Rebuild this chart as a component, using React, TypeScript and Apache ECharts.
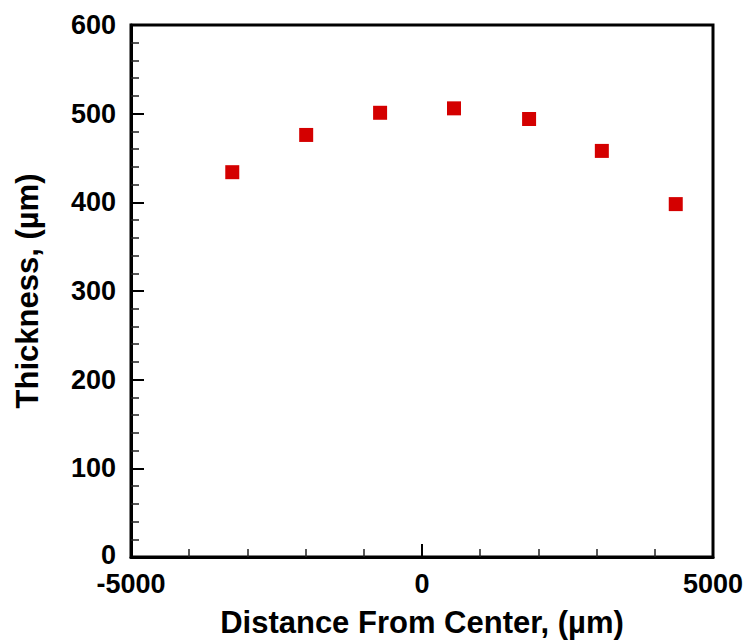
import React, { useEffect, useRef } from "react";
import * as echarts from "echarts";

const distances = [-3260, -1990, -720, 550, 1840, 3090, 4360];
const thickness = [434, 476, 501, 506, 494, 458, 398];
const xTitle = "Distance From Center, (µm)";
const yTitle = "Thickness, (µm)";

export default function App() {
  const ref = useRef<HTMLDivElement>(null);
  useEffect(() => {
    if (!ref.current) return;
    const chart = echarts.init(ref.current, null, { renderer: "svg" });
    const font = "Liberation Sans, Arial, sans-serif";
    chart.setOption({
      animation: false,
      backgroundColor: "#ffffff",
      grid: {
        left: 131,
        top: 25,
        right: 37,
        bottom: 87,
        show: true,
        borderColor: "#000",
        borderWidth: 3,
      },
      xAxis: {
        type: "value",
        min: -5000,
        max: 5000,
        interval: 5000,
        name: xTitle,
        nameLocation: "middle",
        nameGap: 50,
        nameTextStyle: { fontFamily: font, fontWeight: "bold", fontSize: 31, color: "#000" },
        axisLine: { show: true, onZero: false, lineStyle: { color: "#000", width: 3 } },
        axisTick: { show: true, inside: true, length: 13, lineStyle: { color: "#000", width: 2 } },
        minorTick: { show: true, splitNumber: 5, length: 8, lineStyle: { color: "#222", width: 1.5 } },
        splitLine: { show: false },
        axisLabel: {
          fontFamily: font,
          fontWeight: "bold",
          fontSize: 27,
          color: "#000",
          margin: 13,
          formatter: (v: number) => String(v),
        },
      },
      yAxis: {
        type: "value",
        min: 0,
        max: 600,
        interval: 100,
        name: yTitle,
        nameLocation: "middle",
        nameGap: 88,
        nameTextStyle: { fontFamily: font, fontWeight: "bold", fontSize: 31, color: "#000" },
        axisLine: { show: true, onZero: false, lineStyle: { color: "#000", width: 3 } },
        axisTick: { show: true, inside: true, length: 13, lineStyle: { color: "#000", width: 2 } },
        minorTick: { show: true, splitNumber: 5, length: 8, lineStyle: { color: "#222", width: 1.5 } },
        splitLine: { show: false },
        axisLabel: {
          fontFamily: font,
          fontWeight: "bold",
          fontSize: 27,
          color: "#000",
          margin: 15,
          formatter: (v: number) => (v === 0 ? "{z|0}" : String(v)),
          rich: {
            z: {
              fontFamily: font,
              fontWeight: "bold",
              fontSize: 27,
              color: "#000",
              lineHeight: 22,
              padding: [0, 0, 4, 0],
            },
          },
        },
      },
      series: [
        {
          type: "scatter",
          symbol: "rect",
          symbolSize: 14,
          itemStyle: { color: "#d40000", opacity: 1 },
          data: distances.map((d, i) => [d, thickness[i]]),
        },
      ],
    });
    return () => chart.dispose();
  }, []);
  return (
    <div
      ref={ref}
      style={{ position: "fixed", left: 0, top: 0, width: 750, height: 644 }}
    />
  );
}
